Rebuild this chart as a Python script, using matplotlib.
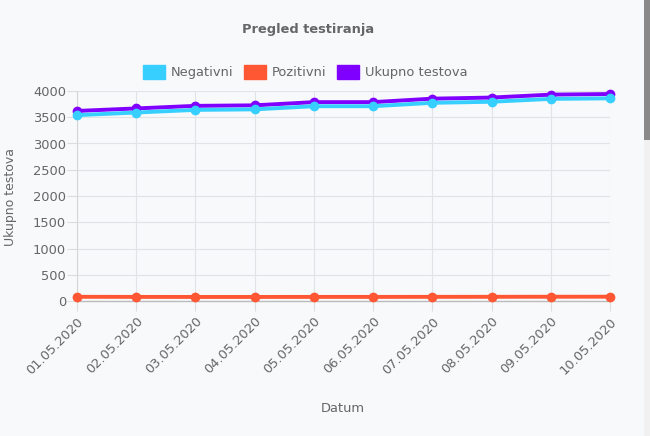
import matplotlib
matplotlib.use("Agg")
import matplotlib.pyplot as plt
from matplotlib.patches import Patch, Rectangle

dates = ["01.05.2020", "02.05.2020", "03.05.2020", "04.05.2020", "05.05.2020",
         "06.05.2020", "07.05.2020", "08.05.2020", "09.05.2020", "10.05.2020"]
negativni = [3540, 3590, 3640, 3650, 3710, 3710, 3775, 3795, 3850, 3860]
pozitivni = [80, 78, 77, 77, 78, 78, 79, 80, 81, 82]
ukupno = [3620, 3668, 3717, 3727, 3788, 3788, 3854, 3875, 3931, 3942]
yticks = [0, 500, 1000, 1500, 2000, 2500, 3000, 3500, 4000]

c_neg = "#36CFFF"
c_poz = "#FF5733"
c_uk = "#8000FF"
bg = "#F8F9FB"
txt = "#666666"
fs = 9.4

plt.rcParams["font.family"] = ["DejaVu Sans"]

W, H = 650, 436
fig = plt.figure(figsize=(W / 100, H / 100), dpi=100, facecolor=bg)
L, R, T, B = 77, 610, 91, 301
ax = fig.add_axes([L / W, 1 - B / H, (R - L) / W, (B - T) / H])
ax.set_facecolor(bg)

x = list(range(len(dates)))
lw = 2.8
ms = 6
ax.plot(x, ukupno, color=c_uk, lw=lw, marker="o", ms=ms, zorder=3, clip_on=False)
ax.plot(x, pozitivni, color=c_poz, lw=lw, marker="o", ms=ms, zorder=4, clip_on=False)
ax.plot(x, negativni, color=c_neg, lw=lw, marker="o", ms=ms, zorder=5, clip_on=False)

ax.set_xlim(0, len(dates) - 1)
ax.set_ylim(0, 4000)
ax.set_yticks(yticks)
ax.set_xticks(x)
ax.set_xticklabels(dates, rotation=45, ha="right", rotation_mode="anchor")
ax.tick_params(axis="both", colors="#DDDDDD", labelcolor=txt, labelsize=fs, length=7, width=0.8)
ax.tick_params(axis="x", pad=3)
ax.tick_params(axis="y", pad=1)
ax.grid(True, color="#E2E3E6", lw=0.8, zorder=0)
for s in ["top", "right"]:
    ax.spines[s].set_visible(False)
ax.spines["left"].set_color("#D5D5D5")
ax.spines["bottom"].set_color("#BBBBBB")
ax.spines["left"].set_linewidth(0.8)
ax.spines["bottom"].set_linewidth(1.0)

fig.text(11 / W, 1 - 197 / H, "Ukupno testova", color=txt, fontsize=9, rotation=90,
         ha="center", va="center")
fig.text(343 / W, 1 - 408 / H, "Datum", color=txt, fontsize=fs, ha="center", va="center")
fig.text(308 / W, 1 - 30 / H, "Pregled testiranja", color=txt, fontsize=fs,
         fontweight="bold", ha="center", va="center")

handles = [Patch(facecolor=c_neg, edgecolor=c_neg, label="Negativni"),
           Patch(facecolor=c_poz, edgecolor=c_poz, label="Pozitivni"),
           Patch(facecolor=c_uk, edgecolor=c_uk, label="Ukupno testova")]
leg = fig.legend(handles=handles, loc="center", bbox_to_anchor=(305 / W, 1 - 72 / H),
                 ncol=3, frameon=False, fontsize=fs, handlelength=1.7, handleheight=1.3,
                 handletextpad=0.45, columnspacing=0.8, borderpad=0, borderaxespad=0)
for t in leg.get_texts():
    t.set_color(txt)

# browser scrollbar at the right edge
fig.patches.append(Rectangle((644 / W, 0), 6 / W, 1, transform=fig.transFigure,
                             facecolor="#F1F1F1", edgecolor="none"))
fig.patches.append(Rectangle((644 / W, 1 - 140 / H), 6 / W, 140 / H, transform=fig.transFigure,
                             facecolor="#8A8A8A", edgecolor="none"))

fig.savefig("out.png", dpi=100, facecolor=bg)
